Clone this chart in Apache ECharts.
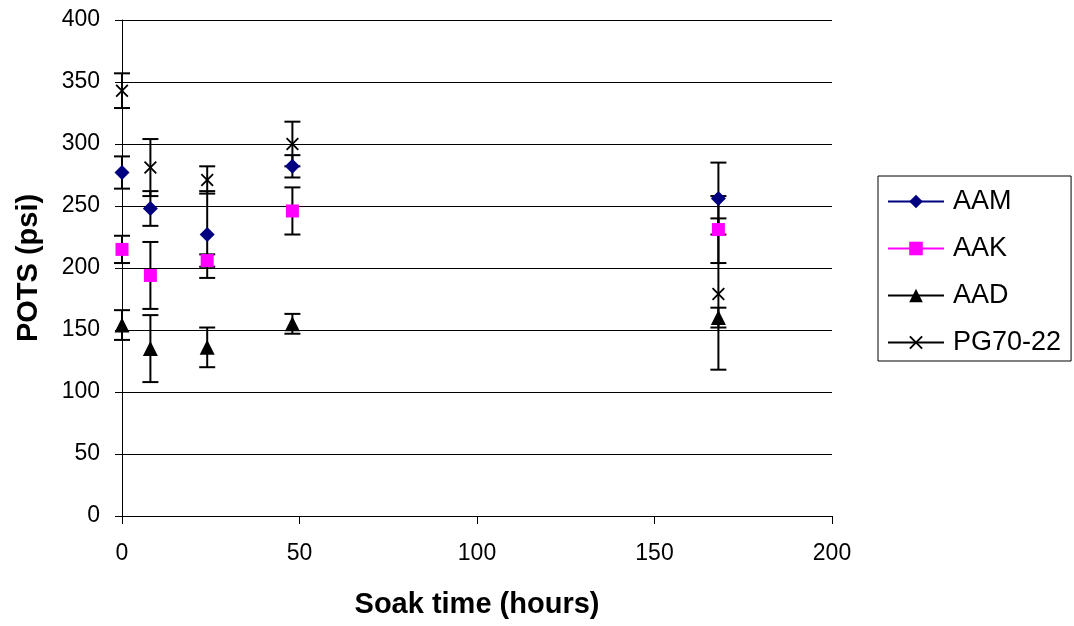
<!DOCTYPE html>
<html>
<head>
<meta charset="utf-8">
<script src="https://cdn.jsdelivr.net/npm/echarts@6/dist/echarts.min.js"></script>
<style>
  html, body { margin: 0; padding: 0; background: #fff; }
  #chart { width: 1074px; height: 626px; }
</style>
</head>
<body>
<div id="chart"></div>
<script>
// soak times (hours)
const soakHours = [0, 8, 24, 48, 168]

// mean POTS (psi) and error bar half-widths, per binder
const aamMean = [277, 248, 227, 282, 256]
const aamErr = [13, 14, 35, 9, 29]
const aakMean = [215, 194, 206, 246, 231]
const aakErr = [11, 27, 5, 19, 27]
const aadMean = [154, 135, 136, 155, 160]
const aadErr = [12, 27, 16, 8, 8]
const pgMean = [343, 281, 271, 300, 179]
const pgErr = [14, 23, 11, 18, 61]

const seriesNames = ['AAM', 'AAK', 'AAD', 'PG70-22']

const FONT = "'Liberation Sans', Arial, sans-serif"
// filled "x" marker
const xMarker = 'path://M0,1 L1,0 L5,4 L9,0 L10,1 L6,5 L10,9 L9,10 L5,6 L1,10 L0,9 L4,5 Z'

function pairs(mean) {
  return soakHours.map((h, i) => [h, mean[i]])
}

function bars(mean, err) {
  return soakHours.map((h, i) => [h, mean[i] - err[i], mean[i] + err[i]])
}

function renderErrorBar(params, api) {
  const x = api.value(0)
  const top = api.coord([x, api.value(2)])
  const bottom = api.coord([x, api.value(1)])
  const half = 8
  const style = { stroke: '#000', lineWidth: 2 }
  return {
    type: 'group',
    children: [
      { type: 'line', shape: { x1: top[0], y1: top[1], x2: bottom[0], y2: bottom[1] }, style: style },
      { type: 'line', shape: { x1: top[0] - half, y1: top[1], x2: top[0] + half, y2: top[1] }, style: style },
      { type: 'line', shape: { x1: bottom[0] - half, y1: bottom[1], x2: bottom[0] + half, y2: bottom[1] }, style: style }
    ]
  }
}

function pointSeries(name, mean, symbol, size, color) {
  return {
    name: name,
    type: 'line',
    data: pairs(mean),
    symbol: symbol,
    symbolSize: size,
    showAllSymbol: true,
    lineStyle: { opacity: 0 },
    itemStyle: { color: color },
    z: 5
  }
}

function errorSeries(mean, err) {
  return {
    type: 'custom',
    renderItem: renderErrorBar,
    encode: { x: 0, y: [1, 2] },
    data: bars(mean, err),
    silent: true,
    z: 3
  }
}

const chart = echarts.init(document.getElementById('chart'))

chart.setOption({
  animation: false,
  backgroundColor: '#fff',
  grid: {
    left: 122,
    right: 242,
    top: 20,
    bottom: 110
  },
  legend: {
    orient: 'vertical',
    left: 878,
    top: 176,
    data: seriesNames,
    itemWidth: 56,
    itemHeight: 17,
    itemGap: 20,
    padding: [12, 10, 5, 9],
    borderColor: '#000',
    borderWidth: 1,
    lineStyle: { opacity: 1, width: 2 },
    textStyle: {
      fontFamily: FONT,
      fontSize: 27,
      color: '#000',
      padding: [0, 0, 0, 4]
    }
  },
  xAxis: {
    type: 'value',
    min: 0,
    max: 200,
    interval: 50,
    name: 'Soak time (hours)',
    nameLocation: 'middle',
    nameGap: 74,
    nameTextStyle: {
      fontFamily: FONT,
      fontSize: 29,
      fontWeight: 'bold',
      color: '#000'
    },
    axisLine: { show: true, onZero: false, lineStyle: { color: '#000', width: 1 } },
    axisTick: { show: true, inside: false, length: 8, lineStyle: { color: '#000' } },
    axisLabel: {
      fontFamily: FONT,
      fontSize: 23,
      color: '#000',
      margin: 26
    },
    splitLine: { show: false }
  },
  yAxis: {
    type: 'value',
    min: 0,
    max: 400,
    interval: 50,
    name: 'POTS (psi)',
    nameLocation: 'middle',
    nameGap: 79,
    nameTextStyle: {
      fontFamily: FONT,
      fontSize: 29,
      fontWeight: 'bold',
      color: '#000'
    },
    axisLine: { show: true, lineStyle: { color: '#000', width: 1 } },
    axisTick: { show: true, inside: false, length: 7, lineStyle: { color: '#000' } },
    axisLabel: {
      fontFamily: FONT,
      fontSize: 23,
      color: '#000',
      margin: 22
    },
    splitLine: { show: true, lineStyle: { color: '#000', width: 1 } }
  },
  series: [
    errorSeries(aamMean, aamErr),
    errorSeries(aakMean, aakErr),
    errorSeries(aadMean, aadErr),
    errorSeries(pgMean, pgErr),
    pointSeries('AAM', aamMean, 'diamond', 15, '#000080'),
    pointSeries('AAK', aakMean, 'rect', 13, '#ff00ff'),
    pointSeries('AAD', aadMean, 'triangle', 15, '#000'),
    pointSeries('PG70-22', pgMean, xMarker, 13, '#000')
  ]
})
</script>
</body>
</html>
